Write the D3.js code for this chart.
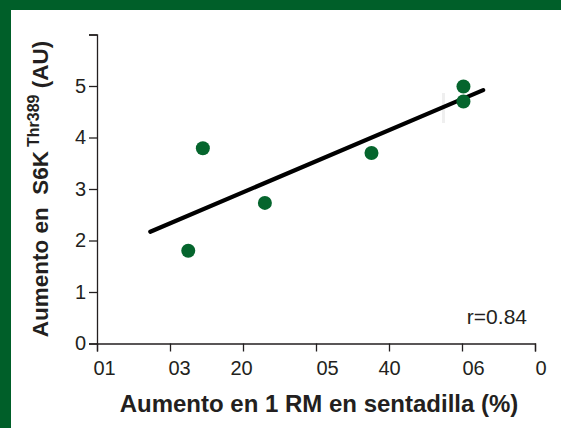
<!DOCTYPE html>
<html>
<head>
<meta charset="utf-8">
<script src="https://cdn.jsdelivr.net/npm/d3@7/dist/d3.min.js"></script>
<style>
  html, body { margin: 0; padding: 0; background: #fff; }
  svg { display: block; }
  text { font-family: "Liberation Sans", Arial, Helvetica, sans-serif; fill: #231f20; }
</style>
</head>
<body>
<svg id="chart" width="561" height="428"></svg>
<script>
// Squat 1RM gain (%) vs. S6K Thr389 phosphorylation gain (AU)
const squatGain = [22.5, 24.5, 33.0, 47.6, 60.2, 60.2];
const s6kGain   = [1.80, 3.79, 2.73, 3.70, 4.99, 4.70];

// Fitted regression line, end points (x in %, y in AU)
const fitX = [17.3, 62.9];
const fitY = [2.17, 4.92];

const xTickValues = [10, 20, 30, 40, 50, 60, 70];
const xTickLabels = ["01", "03", "20", "05", "40", "06", "0"];
const yTickValues = [0, 1, 2, 3, 4, 5, 6];
const yTickLabels = ["0", "1", "2", "3", "4", "5", ""];
const rLabel = "r=0.84";

const GREEN = "#005f29";
const DOT = "#05652d";
const FONT = "Liberation Sans, Arial, sans-serif";

const svg = d3.select("#chart");

// frame: green band along the top and left edges
svg.append("rect").attr("x", 0).attr("y", 0).attr("width", 561).attr("height", 428).attr("fill", "#fff");
svg.append("rect").attr("x", 0).attr("y", 0).attr("width", 561).attr("height", 10).attr("fill", GREEN);
svg.append("rect").attr("x", 0).attr("y", 0).attr("width", 11).attr("height", 428).attr("fill", GREEN);

const x = d3.scaleLinear().domain([10, 70]).range([97, 535]);
const y = d3.scaleLinear().domain([0, 6]).range([343.5, 34.5]);

// x axis
const xAxis = d3.axisBottom(x)
  .tickValues(xTickValues)
  .tickSize(8)
  .tickFormat((d, i) => xTickLabels[i]);
const gx = svg.append("g").attr("transform", `translate(0,${y(0)})`).call(xAxis);
gx.select(".domain").attr("stroke", "#231f20").attr("stroke-width", 1.3);
gx.selectAll(".tick line").attr("stroke", "#231f20").attr("stroke-width", 1.3);
// reversed-digit labels sit just right of their tick
const xAnchor = ["start", "start", "middle", "start", "middle", "start", "start"];
const xShift = [-4, -2, -2, 0, 0, 0, 0];
gx.selectAll(".tick text")
  .attr("font-size", 20)
  .attr("y", 17)
  .attr("text-anchor", (d, i) => xAnchor[i])
  .attr("dx", (d, i) => xShift[i])
  .style("font-family", FONT)
  .attr("fill", "#231f20");

// y axis
const yAxis = d3.axisLeft(y)
  .tickValues(yTickValues)
  .tickSize(8)
  .tickFormat((d, i) => yTickLabels[i]);
const gy = svg.append("g").attr("transform", `translate(${x(10)},0)`).call(yAxis);
gy.select(".domain").attr("stroke", "#231f20").attr("stroke-width", 1.3);
gy.selectAll(".tick line").attr("stroke", "#231f20").attr("stroke-width", 1.3);
gy.selectAll(".tick text")
  .attr("font-size", 20)
  .attr("x", -11)
  .style("font-family", FONT)
  .attr("fill", "#231f20");

// faint mark in the plot area
svg.append("rect").attr("x", 442).attr("y", 93).attr("width", 3).attr("height", 30)
  .attr("fill", "#efefef");

// regression line
const fit = fitX.map((v, i) => [v, fitY[i]]);
svg.append("path")
  .attr("d", d3.line().x(d => x(d[0])).y(d => y(d[1]))(fit))
  .attr("stroke", "#000")
  .attr("stroke-width", 4.2)
  .attr("stroke-linecap", "round")
  .attr("fill", "none");

// data points
svg.append("g").selectAll("circle")
  .data(squatGain.map((v, i) => [v, s6kGain[i]]))
  .join("circle")
  .attr("cx", d => x(d[0]))
  .attr("cy", d => y(d[1]))
  .attr("r", 7)
  .attr("fill", DOT);

// correlation coefficient
svg.append("text")
  .attr("x", 527).attr("y", 324)
  .attr("text-anchor", "end")
  .attr("font-size", 21)
  .text(rLabel);

// axis titles
svg.append("text")
  .attr("x", 319).attr("y", 412)
  .attr("text-anchor", "middle")
  .attr("font-size", 24)
  .attr("font-weight", "bold")
  .text("Aumento en 1 RM en sentadilla (%)");

const yt = svg.append("text")
  .attr("transform", "translate(48,189) rotate(-90)")
  .attr("text-anchor", "middle")
  .attr("font-size", 22.5)
  .attr("font-weight", "bold");
yt.append("tspan").text("Aumento en\u00a0\u00a0S6K");
yt.append("tspan").attr("dx", 4).attr("dy", -9).attr("font-size", 16).text("Thr389");
yt.append("tspan").attr("dy", 9).text(" (AU)");
</script>
</body>
</html>
